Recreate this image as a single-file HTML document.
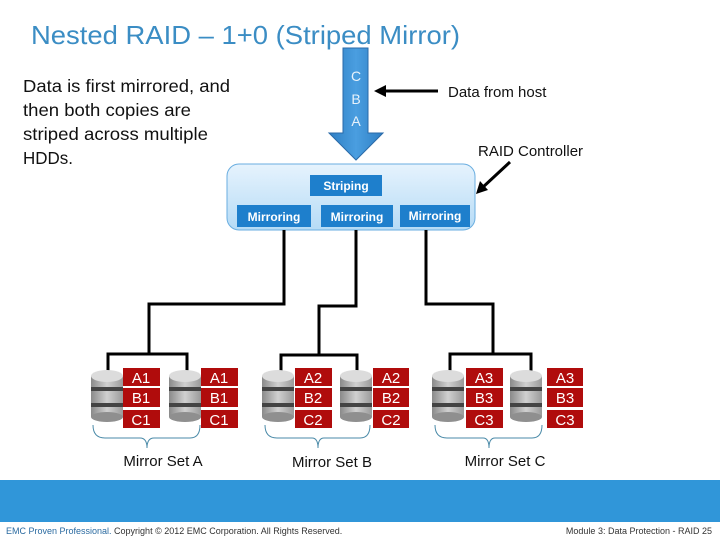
<!DOCTYPE html>
<html><head><meta charset="utf-8"><style>
html,body{margin:0;padding:0;background:#fff;}
svg{display:block;}
text{font-family:"Liberation Sans",sans-serif;}
</style></head><body>
<svg width="720" height="540" viewBox="0 0 720 540" xmlns="http://www.w3.org/2000/svg">
<defs>
<linearGradient id="ctl" x1="0" y1="0" x2="0" y2="1"><stop offset="0" stop-color="#e6f3fd"/><stop offset="1" stop-color="#b5dbf6"/></linearGradient>
<linearGradient id="disk" x1="0" y1="0" x2="1" y2="0"><stop offset="0" stop-color="#8a8a8a"/><stop offset="0.5" stop-color="#d0d0d0"/><stop offset="1" stop-color="#9a9a9a"/></linearGradient>
<linearGradient id="arr" x1="0" y1="0" x2="1" y2="0"><stop offset="0" stop-color="#2f7fc4"/><stop offset="0.5" stop-color="#4a9ee0"/><stop offset="1" stop-color="#2f7fc4"/></linearGradient>
<g id="dk">
<rect x="0" y="6" width="32" height="41" fill="url(#disk)"/>
<ellipse cx="16" cy="47" rx="16" ry="5" fill="#8f8f8f"/>
<rect x="0" y="17" width="32" height="4" fill="#444"/>
<rect x="0" y="33" width="32" height="4" fill="#444"/>
<ellipse cx="16" cy="6" rx="16" ry="6" fill="#dcdcdc"/>
</g>
</defs>
<text x="31" y="44" font-size="26" fill="#3b8dc4" textLength="429" lengthAdjust="spacingAndGlyphs">Nested RAID – 1+0 (Striped Mirror)</text>
<g font-size="17.5" fill="#111">
<text x="23" y="92" textLength="207" lengthAdjust="spacingAndGlyphs">Data is first mirrored, and</text>
<text x="23" y="116" textLength="168" lengthAdjust="spacingAndGlyphs">then both copies are</text>
<text x="23" y="140" textLength="185" lengthAdjust="spacingAndGlyphs">striped across multiple</text>
<text x="23" y="164" textLength="50" lengthAdjust="spacingAndGlyphs">HDDs.</text>
</g>
<path d="M343,48 H368 V133 H383 L356,160 L329,133 H343 Z" fill="url(#arr)" stroke="#2a6aa8" stroke-width="1"/>
<g font-size="14" fill="#e8f2fb" text-anchor="middle"><text x="356" y="81">C</text><text x="356" y="104">B</text><text x="356" y="126">A</text></g>
<line x1="438" y1="91" x2="382" y2="91" stroke="#000" stroke-width="3"/>
<path d="M374,91 L386,85 L386,97 Z" fill="#000"/>
<text x="448" y="97" font-size="15" fill="#111">Data from host</text>
<text x="478" y="156" font-size="15" fill="#111">RAID Controller</text>
<line x1="510" y1="162" x2="482" y2="188" stroke="#000" stroke-width="3"/>
<path d="M476,194 L480,181 L488,190 Z" fill="#000"/>
<rect x="227" y="164" width="248" height="66" rx="12" fill="url(#ctl)" stroke="#6aaee0" stroke-width="1"/>
<g fill="#1e7fcc"><rect x="310" y="175" width="72" height="21"/><rect x="237" y="205" width="74" height="22"/><rect x="321" y="205" width="72" height="22"/><rect x="400" y="205" width="70" height="22"/></g>
<g font-size="12" fill="#fff" text-anchor="middle" font-weight="bold"><text x="346" y="190">Striping</text><text x="274" y="221">Mirroring</text><text x="357" y="221">Mirroring</text><text x="435" y="220">Mirroring</text></g>
<g stroke="#000" stroke-width="3" fill="none">
<path d="M284,230 V304 H149 V353"/>
<path d="M356,230 V306 H319 V354"/>
<path d="M426,230 V304 H493 V353"/>
<path d="M108,372 V354 H187 V372"/>
<path d="M281,372 V355 H357 V372"/>
<path d="M450,372 V354 H531 V372"/>
</g>
<use href="#dk" x="91" y="370"/><use href="#dk" x="169" y="370"/>
<use href="#dk" x="262" y="370"/><use href="#dk" x="340" y="370"/>
<use href="#dk" x="432" y="370"/><use href="#dk" x="510" y="370"/>
<g fill="#b00c0c">
<rect x="123" y="368" width="37" height="18"/><rect x="123" y="388" width="37" height="19"/><rect x="123" y="410" width="37" height="18"/>
<rect x="201" y="368" width="37" height="18"/><rect x="201" y="388" width="37" height="19"/><rect x="201" y="410" width="37" height="18"/>
<rect x="295" y="368" width="37" height="18"/><rect x="295" y="388" width="37" height="19"/><rect x="295" y="410" width="37" height="18"/>
<rect x="373" y="368" width="36" height="18"/><rect x="373" y="388" width="36" height="19"/><rect x="373" y="410" width="36" height="18"/>
<rect x="466" y="368" width="37" height="18"/><rect x="466" y="388" width="37" height="19"/><rect x="466" y="410" width="37" height="18"/>
<rect x="547" y="368" width="36" height="18"/><rect x="547" y="388" width="36" height="19"/><rect x="547" y="410" width="36" height="18"/>
</g>
<g font-size="15" fill="#fff" text-anchor="middle">
<text x="141" y="383">A1</text><text x="141" y="403">B1</text><text x="141" y="425">C1</text>
<text x="219" y="383">A1</text><text x="219" y="403">B1</text><text x="219" y="425">C1</text>
<text x="313" y="383">A2</text><text x="313" y="403">B2</text><text x="313" y="425">C2</text>
<text x="391" y="383">A2</text><text x="391" y="403">B2</text><text x="391" y="425">C2</text>
<text x="484" y="383">A3</text><text x="484" y="403">B3</text><text x="484" y="425">C3</text>
<text x="565" y="383">A3</text><text x="565" y="403">B3</text><text x="565" y="425">C3</text>
</g>
<g stroke="#4a8aa8" stroke-width="1" fill="none">
<path d="M93,425 Q93,438 105,438 H140 Q147,438 147,448 Q147,438 154,438 H190 Q200,438 200,425"/>
<path d="M265,425 Q265,438 277,438 H312 Q318,438 318,448 Q318,438 324,438 H360 Q370,438 370,425"/>
<path d="M435,425 Q435,438 447,438 H483 Q489,438 489,448 Q489,438 495,438 H532 Q542,438 542,425"/>
</g>
<g font-size="15" fill="#111" text-anchor="middle">
<text x="163" y="466">Mirror Set A</text><text x="332" y="467">Mirror Set B</text><text x="505" y="466">Mirror Set C</text>
</g>
<rect x="0" y="480" width="720" height="42" fill="#3096d9"/>
<text x="6" y="534" font-size="9" fill="#333"><tspan fill="#2a6aa0">EMC Proven Professional.</tspan> Copyright © 2012 EMC Corporation. All Rights Reserved.</text>
<text x="712" y="534" font-size="9" fill="#333" text-anchor="end">Module 3: Data Protection - RAID   25</text>
</svg>
</body></html>
